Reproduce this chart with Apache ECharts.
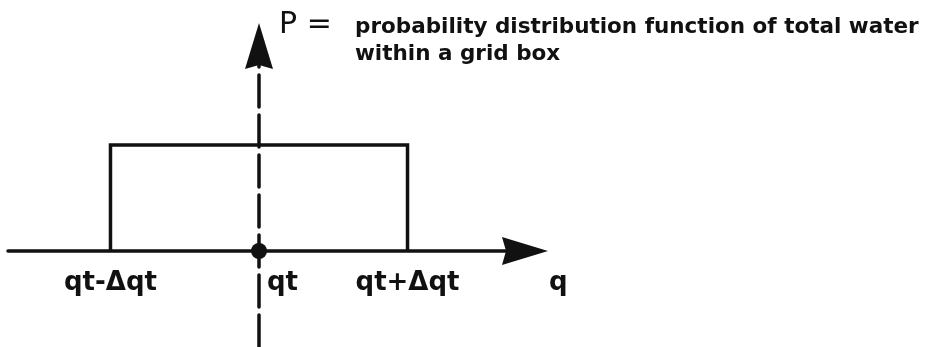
<!DOCTYPE html>
<html>
<head>
<meta charset="utf-8">
<script src="https://cdn.jsdelivr.net/npm/echarts@6.0.0/dist/echarts.min.js"></script>
<style>
  html, body { margin: 0; padding: 0; background: #fff; }
  #chart { width: 939px; height: 347px; }
</style>
</head>
<body>
<div id="chart"></div>
<script>
// top-hat pdf of total water q around the grid box mean qt (qt = 0, dqt = 1)
const tickValues = [-1, 0, 1];
const tickLabels = ['qt-Δqt', 'qt', 'qt+Δqt'];
const boxQ = [-1, -1, 1, 1];
const boxP = [0, 0.5, 0.5, 0];
const meanQ = 0;
const meanP = 0;

const titleLines = [
    'probability distribution function of total water',
    'within a grid box'
];

const font = 'DejaVu Sans';
const ink = '#111';
const arrowPath = 'path://M0,0 L14,46 L0,42 L-14,46 Z';
const qRange = [-1.69, 1.791];

const chart = echarts.init(document.getElementById('chart'));

// two grids: the upper one holds the pdf, the lower one only carries the
// part of the dashed P axis that runs below the q axis
const option = {
    backgroundColor: '#fff',
    animation: false,
    title: [
        {
            text: 'P =',
            left: 279,
            top: 10,
            padding: 0,
            textStyle: { fontFamily: font, fontSize: 30, fontWeight: 'normal', color: ink, lineHeight: 30 }
        },
        {
            text: titleLines.join('\n'),
            left: 355,
            top: 14,
            padding: 0,
            textStyle: { fontFamily: font, fontSize: 21.5, fontWeight: 'bold', color: ink, lineHeight: 27 }
        }
    ],
    grid: [
        { left: 8, right: 414, top: 46, bottom: 96, outerBoundsMode: 'none', containLabel: false },
        { left: 8, right: 414, top: 251, bottom: 0, outerBoundsMode: 'none', containLabel: false }
    ],
    xAxis: [
        {
            type: 'value',
            gridIndex: 0,
            min: qRange[0],
            max: qRange[1],
            name: 'q',
            nameLocation: 'end',
            nameGap: 24,
            nameTextStyle: {
                fontFamily: font, fontSize: 26, fontWeight: 'bold', color: ink,
                verticalAlign: 'top', padding: [19, 0, 0, 0]
            },
            axisLine: {
                onZero: false,
                symbol: ['none', arrowPath],
                symbolSize: [28, 46],
                lineStyle: { color: ink, width: 3.5 }
            },
            axisTick: { show: false },
            splitLine: { show: false },
            axisLabel: {
                customValues: tickValues,
                margin: 19,
                fontFamily: font,
                fontSize: 26,
                fontWeight: 'bold',
                color: ink,
                formatter: function (v) {
                    const i = tickValues.indexOf(v);
                    if (i < 0) return '';
                    if (v === meanQ) return '{m|' + tickLabels[i] + '}';
                    return tickLabels[i];
                },
                rich: {
                    m: { fontFamily: font, fontSize: 26, fontWeight: 'bold', color: ink, padding: [0, 0, 0, 47] }
                }
            }
        },
        {
            type: 'value',
            gridIndex: 1,
            min: qRange[0],
            max: qRange[1],
            show: false
        }
    ],
    yAxis: [
        {
            type: 'value',
            gridIndex: 0,
            min: 0,
            max: 0.967,
            axisLine: {
                onZero: true,
                symbol: ['none', arrowPath],
                symbolSize: [28, 46],
                lineStyle: { color: ink, width: 3.5, type: [32, 8], dashOffset: 16 }
            },
            axisTick: { show: false },
            axisLabel: { show: false },
            splitLine: { show: false }
        },
        {
            type: 'value',
            gridIndex: 1,
            min: -0.453,
            max: 0,
            axisLine: {
                onZero: true,
                lineStyle: { color: ink, width: 3.5, type: [32, 8] }
            },
            axisTick: { show: false },
            axisLabel: { show: false },
            splitLine: { show: false }
        }
    ],
    series: [
        {
            type: 'line',
            xAxisIndex: 0,
            yAxisIndex: 0,
            data: boxQ.map((q, i) => [q, boxP[i]]),
            symbol: 'none',
            lineStyle: { color: ink, width: 3.5, join: 'miter' },
            z: 3
        },
        {
            type: 'scatter',
            xAxisIndex: 0,
            yAxisIndex: 0,
            data: [[meanQ, meanP]],
            symbolSize: 16,
            clip: false,
            itemStyle: { color: ink, opacity: 1 },
            z: 5
        }
    ]
};

chart.setOption(option);
</script>
</body>
</html>
